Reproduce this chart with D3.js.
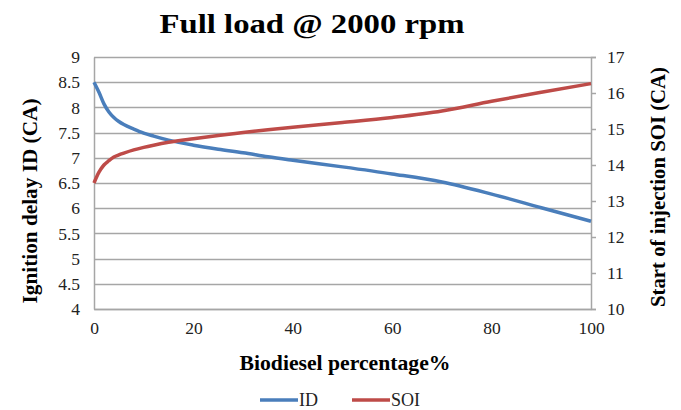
<!DOCTYPE html>
<html>
<head>
<meta charset="utf-8">
<script src="https://cdn.jsdelivr.net/npm/d3@7"></script>
<style>
  body { margin: 0; background: #fff; }
  svg text { font-family: "Liberation Serif", "DejaVu Serif", serif !important; }
</style>
</head>
<body>
<div id="app"></div>
<script>
const biodiesel = [0, 1, 2, 3, 4, 5, 6, 8, 10, 12, 15, 20, 25, 30, 35, 40, 50, 60, 70, 80, 90, 100];
const idValues = [8.5, 8.3, 8.07, 7.91, 7.8, 7.72, 7.66, 7.57, 7.49, 7.43, 7.35, 7.25, 7.17, 7.1, 7.02, 6.95, 6.82, 6.68, 6.52, 6.28, 6.01, 5.74];
const soiValues = [13.5, 13.8, 14.0, 14.12, 14.22, 14.28, 14.33, 14.42, 14.49, 14.55, 14.63, 14.73, 14.82, 14.9, 14.98, 15.05, 15.18, 15.32, 15.5, 15.77, 16.02, 16.26];
const leftTicks = [4, 4.5, 5, 5.5, 6, 6.5, 7, 7.5, 8, 8.5, 9];
const rightTicks = [10, 11, 12, 13, 14, 15, 16, 17];
const xTicks = [0, 20, 40, 60, 80, 100];

const width = 681;
const height = 410;
const plotLeft = 94;
const plotRight = 591;
const plotTop = 57;
const plotBottom = 309;
const serif = '"Liberation Serif", "DejaVu Serif", serif';

const svg = d3
  .create("svg")
  .attr("width", width)
  .attr("height", height)
  .style("font-family", serif);

const x = d3.scaleLinear().domain([0, 100]).range([plotLeft, plotRight]);
const yLeft = d3.scaleLinear().domain([4, 9]).range([plotBottom, plotTop]);
const yRight = d3.scaleLinear().domain([10, 17]).range([plotBottom, plotTop]);

// title (the original text is a bit stretched sideways, hence textLength)
svg
  .append("text")
  .attr("x", 312)
  .attr("y", 33)
  .attr("text-anchor", "middle")
  .attr("font-size", "28px")
  .attr("font-weight", "bold")
  .attr("textLength", 305)
  .attr("lengthAdjust", "spacingAndGlyphs")
  .text("Full load @ 2000 rpm");

// gridlines
svg
  .append("g")
  .selectAll("line")
  .data(leftTicks)
  .join("line")
  .attr("x1", plotLeft)
  .attr("x2", plotRight)
  .attr("y1", (d) => Math.round(yLeft(d)) + 0.5)
  .attr("y2", (d) => Math.round(yLeft(d)) + 0.5)
  .attr("stroke", "#a6a6a6")
  .attr("stroke-width", 1.5);

function styleAxis(g) {
  g.attr("font-family", null);
  g.select(".domain").attr("stroke", "#a6a6a6").attr("stroke-width", 1.5);
  g.selectAll("line").attr("stroke", "#a6a6a6").attr("stroke-width", 1.5);
  g.selectAll("text")
    .attr("font-size", "17.5px")
    .attr("fill", "#222")
    .style("font-family", serif);
}

// left axis
svg
  .append("g")
  .attr("transform", `translate(${plotLeft},0)`)
  .call(d3.axisLeft(yLeft).tickValues(leftTicks).tickSize(0).tickPadding(14).tickFormat(d3.format("")))
  .call(styleAxis);

// right axis
svg
  .append("g")
  .attr("transform", `translate(${plotRight},0)`)
  .call(d3.axisRight(yRight).tickValues(rightTicks).tickSize(5).tickPadding(11).tickFormat(d3.format("")))
  .call(styleAxis);

// bottom axis
svg
  .append("g")
  .attr("transform", `translate(0,${plotBottom})`)
  .call(d3.axisBottom(x).tickValues(xTicks).tickSize(0).tickPadding(13))
  .call(styleAxis);

// lines
const idLine = d3
  .line()
  .x((d, i) => x(biodiesel[i]))
  .y((d) => yLeft(d))
  .curve(d3.curveMonotoneX);

const soiLine = d3
  .line()
  .x((d, i) => x(biodiesel[i]))
  .y((d) => yRight(d))
  .curve(d3.curveMonotoneX);

svg
  .append("path")
  .attr("d", idLine(idValues))
  .attr("fill", "none")
  .attr("stroke", "#4a7ebb")
  .attr("stroke-width", 3.5);

svg
  .append("path")
  .attr("d", soiLine(soiValues))
  .attr("fill", "none")
  .attr("stroke", "#be4b48")
  .attr("stroke-width", 3.5);

// axis titles
svg
  .append("text")
  .attr("transform", "translate(37,201) rotate(-90)")
  .attr("text-anchor", "middle")
  .attr("font-size", "20px")
  .attr("font-weight", "bold")
  .attr("textLength", 205)
  .attr("lengthAdjust", "spacingAndGlyphs")
  .text("Ignition delay ID (CA)");

svg
  .append("text")
  .attr("transform", "translate(665,187) rotate(-90)")
  .attr("text-anchor", "middle")
  .attr("font-size", "20px")
  .attr("font-weight", "bold")
  .attr("textLength", 240)
  .attr("lengthAdjust", "spacingAndGlyphs")
  .text("Start of injection SOI (CA)");

svg
  .append("text")
  .attr("x", 345)
  .attr("y", 370)
  .attr("text-anchor", "middle")
  .attr("font-size", "21px")
  .attr("font-weight", "bold")
  .attr("textLength", 211)
  .attr("lengthAdjust", "spacingAndGlyphs")
  .text("Biodiesel percentage%");

// legend
const legend = [
  { name: "ID", color: "#4a7ebb", x: 260 },
  { name: "SOI", color: "#be4b48", x: 352 },
];
const lg = svg.append("g").selectAll("g").data(legend).join("g");
lg.append("line")
  .attr("x1", (d) => d.x)
  .attr("x2", (d) => d.x + 38)
  .attr("y1", 400)
  .attr("y2", 400)
  .attr("stroke", (d) => d.color)
  .attr("stroke-width", 3.5);
lg.append("text")
  .attr("x", (d) => d.x + 39)
  .attr("y", 406)
  .attr("font-size", "18px")
  .attr("fill", "#222")
  .text((d) => d.name);

document.getElementById("app").append(svg.node());
</script>
</body>
</html>
